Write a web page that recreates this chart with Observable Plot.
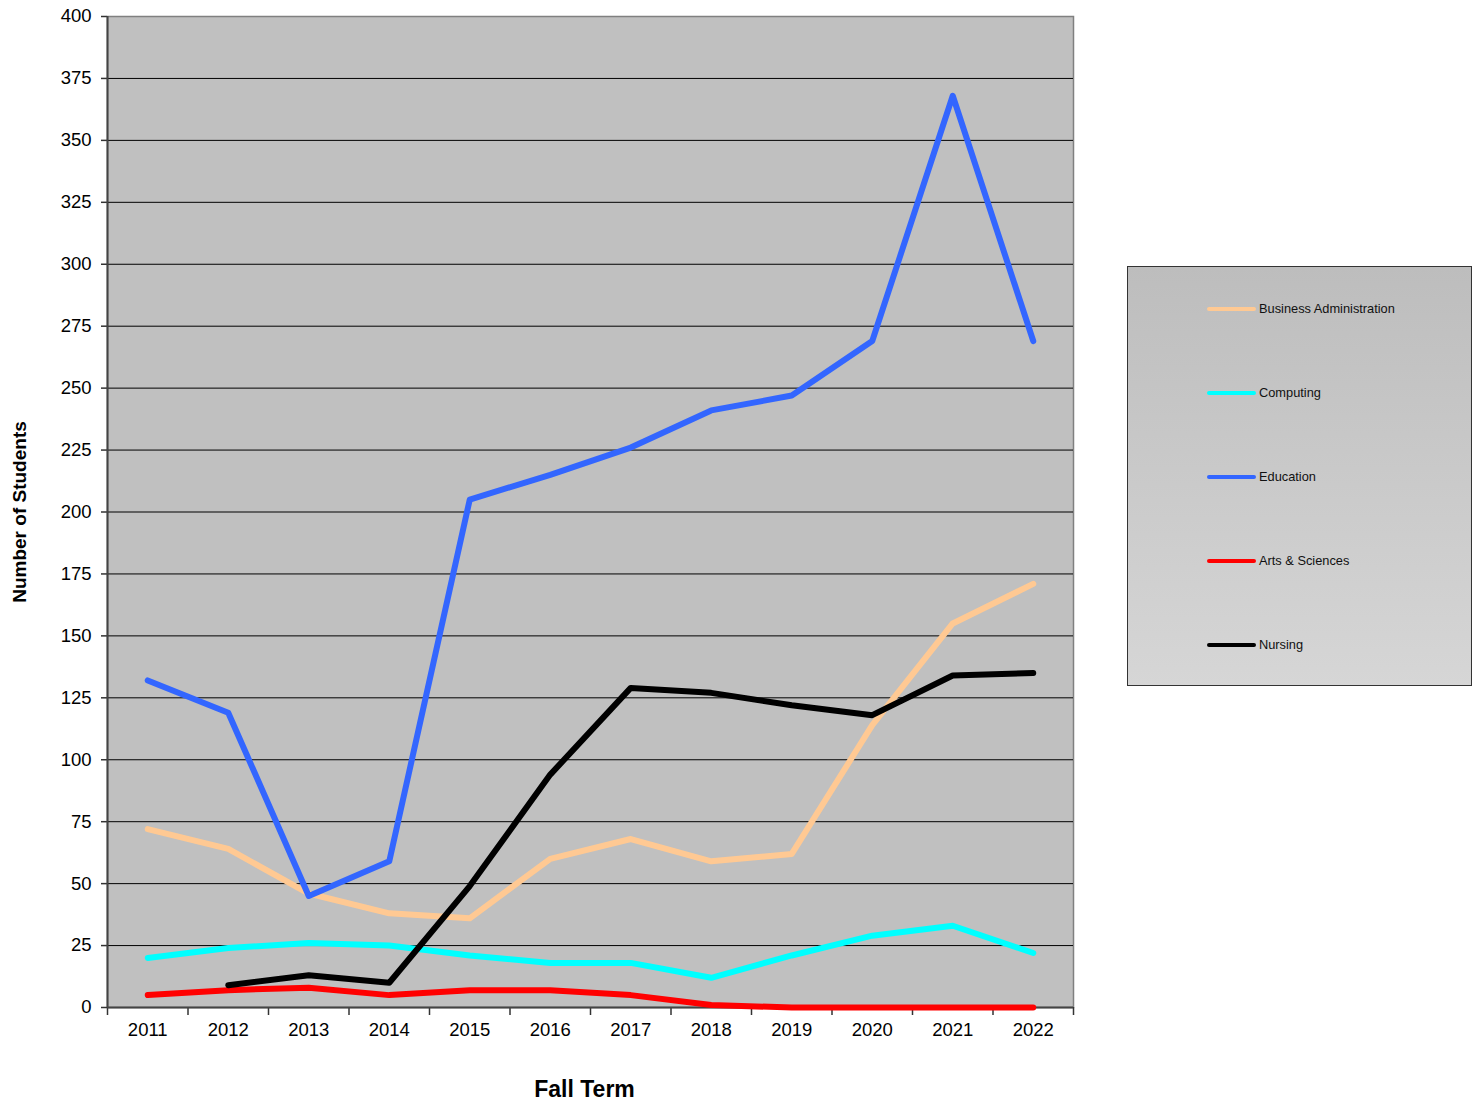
<!DOCTYPE html>
<html>
<head>
<meta charset="utf-8">
<script src="https://cdn.jsdelivr.net/npm/d3@7"></script>
<script src="https://cdn.jsdelivr.net/npm/@observablehq/plot@0.6"></script>
<style>
  body { margin: 0; background: #fff; font-family: "Liberation Sans", Arial, sans-serif; }
  #wrap { position: relative; width: 1476px; height: 1105px; }
  #chart svg { display: block; }
  g[aria-label="y-axis label"] text, g[aria-label="x-axis label"] text { font-weight: bold; fill: #000; }
  g[aria-label="y-axis label"] text { font-size: 19px; }
  g[aria-label="x-axis label"] text { font-size: 23px; }
  #legend {
    position: absolute; left: 1127px; top: 266px; width: 343px; height: 418px;
    border: 1px solid #333;
    background: linear-gradient(to bottom, #bdbdbd, #d6d6d6);
  }
  .item { position: absolute; left: 79px; height: 0; }
  .item .sw { position: absolute; left: 0; top: -2px; width: 49px; height: 4px; border-radius: 2px; }
  .item .lb { position: absolute; left: 52px; top: -8px; font-size: 12.8px; color: #111; white-space: nowrap; line-height: 16px; }
</style>
</head>
<body>
<div id="wrap">
  <div id="chart"></div>
  <div id="legend"></div>
</div>
<script>
const years = [2011, 2012, 2013, 2014, 2015, 2016, 2017, 2018, 2019, 2020, 2021, 2022];
const seriesNames = ["Business Administration", "Computing", "Education", "Arts & Sciences", "Nursing"];
const seriesColors = ["#ffc993", "#00ffff", "#3366ff", "#ff0000", "#000000"];
const businessAdministration = [72, 64, 46, 38, 36, 60, 68, 59, 62, 114, 155, 171];
const computing = [20, 24, 26, 25, 21, 18, 18, 12, 21, 29, 33, 22];
const education = [132, 119, 45, 59, 205, 215, 226, 241, 247, 269, 368, 269];
const artsSciences = [5, 7, 8, 5, 7, 7, 5, 1, 0, 0, 0, 0];
const nursing = [null, 9, 13, 10, 49, 94, 129, 127, 122, 118, 134, 135];
const yTicks = d3.range(0, 401, 25);

const seriesValues = [businessAdministration, computing, education, artsSciences, nursing];
const rows = [];
seriesNames.forEach((name, i) => {
  years.forEach((yr, j) => {
    rows.push({series: name, year: yr, value: seriesValues[i][j]});
  });
});
const boundaries = d3.range(years[0] - 0.5, years[years.length - 1] + 1, 1);

const chart = Plot.plot({
  width: 1476,
  height: 1105,
  marginLeft: 107,
  marginRight: 403,
  marginTop: 16,
  marginBottom: 98,
  style: {fontFamily: "'Liberation Sans', Arial, sans-serif", fontSize: "18.5px", color: "#000", background: "transparent"},
  x: {domain: [years[0] - 0.5, years[years.length - 1] + 0.5]},
  y: {domain: [0, 400]},
  color: {domain: seriesNames, range: seriesColors},
  marks: [
    Plot.frame({fill: "#c0c0c0", stroke: "#808080", strokeWidth: 1.5}),
    Plot.gridY(yTicks.filter(d => d > 0 && d < 400), {stroke: "#000", strokeOpacity: 1, strokeWidth: 1}),
    Plot.axisY(yTicks, {tickSize: 6, tickPadding: 10, stroke: "#333", strokeWidth: 1.5,
      label: "Number of Students", labelAnchor: "center", labelArrow: "none", labelOffset: 95}),
    Plot.axisX(boundaries, {tickSize: 8, tickFormat: () => "", stroke: "#333", strokeWidth: 1.5, label: null}),
    Plot.axisX(years, {tickSize: 0, tickPadding: 15, tickFormat: d => String(d),
      label: "Fall Term", labelAnchor: "center", labelArrow: "none", labelOffset: 89}),
    Plot.ruleY([0], {stroke: "#444", strokeWidth: 2}),
    Plot.ruleX([years[0] - 0.5], {stroke: "#444", strokeWidth: 2}),
    Plot.line(rows, {x: "year", y: "value", z: "series", stroke: "series",
      strokeWidth: 6, strokeLinecap: "round", strokeLinejoin: "round",
      filter: d => d.value != null})
  ]
});
document.getElementById("chart").appendChild(chart);
d3.select(chart).selectAll('g[aria-label="x-axis label"] text').attr("dx", -6);

const legend = document.getElementById("legend");
const legendY = [42, 126, 210, 294, 378];
seriesNames.forEach((name, i) => {
  const it = document.createElement("div");
  it.className = "item";
  it.style.top = legendY[i] + "px";
  it.innerHTML = `<div class="sw" style="background:${seriesColors[i]}"></div><div class="lb"></div>`;
  it.querySelector(".lb").textContent = name;
  legend.appendChild(it);
});
</script>
</body>
</html>
